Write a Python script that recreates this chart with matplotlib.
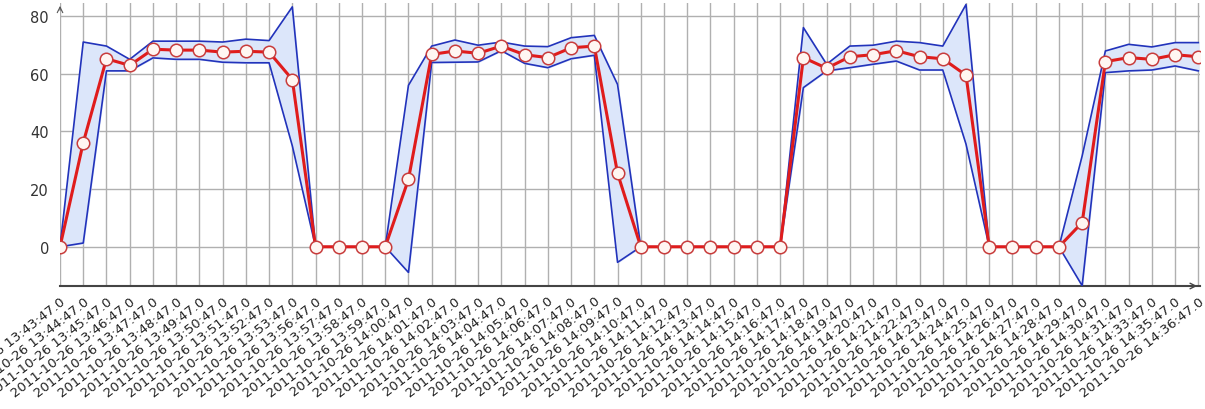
import matplotlib
matplotlib.use('Agg')
import matplotlib.pyplot as plt

# sample times (minutes past the hour on 2011-10-26)
times = ['13:43', '13:44', '13:45', '13:46', '13:47', '13:48', '13:49', '13:50',
         '13:51', '13:52', '13:53', '13:56', '13:57', '13:58', '13:59', '14:00',
         '14:01', '14:02', '14:03', '14:04', '14:05', '14:06', '14:07', '14:08',
         '14:09', '14:10', '14:11', '14:12', '14:13', '14:14', '14:15', '14:16',
         '14:17', '14:18', '14:19', '14:20', '14:21', '14:22', '14:23', '14:24',
         '14:25', '14:26', '14:27', '14:28', '14:29', '14:30', '14:31', '14:33',
         '14:35', '14:36']
labels = ['2011-10-26 %s:47.0' % t for t in times]

mean_vals = [0, 36.1, 65.2, 62.9, 68.5, 68.2, 68.2, 67.5, 67.8, 67.5,
             58.0, 0, 0, 0, 0, 23.4, 66.7, 67.9, 67.1, 69.6,
             66.6, 65.6, 69.0, 69.6, 25.5, 0, 0, 0, 0, 0,
             0, 0, 65.6, 61.9, 65.9, 66.6, 68.0, 65.9, 65.2, 59.5,
             0, 0, 0, 0, 8.4, 64.2, 65.6, 65.0, 66.6, 65.9]
upper_vals = [0, 71.0, 69.6, 65.0, 71.3, 71.3, 71.3, 71.0, 72.0, 71.5,
              83.2, 0, 0, 0, 0, 56.0, 69.6, 71.7, 69.9, 71.0,
              69.6, 69.4, 72.5, 73.3, 56.3, 0, 0, 0, 0, 0,
              0, 0, 76.0, 63.3, 69.6, 69.9, 71.3, 70.8, 69.6, 84.0,
              0, 0, 0, 0, 31.5, 67.9, 70.2, 69.3, 70.8, 70.8]
lower_vals = [0, 1.3, 61.0, 61.0, 65.5, 65.0, 65.0, 64.0, 63.8, 63.8,
              35.0, 0, 0, 0, 0, -8.9, 63.9, 64.0, 64.1, 68.0,
              63.6, 62.1, 65.2, 66.4, -5.4, 0, 0, 0, 0, 0,
              0, 0, 55.2, 61.0, 62.1, 63.3, 64.4, 61.3, 61.3, 35.6,
              0, 0, 0, 0, -13.5, 60.4, 61.0, 61.3, 62.7, 61.0]

x = list(range(len(labels)))

fig = plt.figure(figsize=(12.05, 4.10), dpi=100)
ax = fig.add_axes([0.0498, 0.30, 0.946, 0.690])

# min/max band
ax.fill_between(x, lower_vals, upper_vals, color='#dce6fa', zorder=2)
ax.plot(x, upper_vals, color='#2233bb', lw=1.2, zorder=3)
ax.plot(x, lower_vals, color='#2233bb', lw=1.2, zorder=3)

# average line
ax.plot(x, mean_vals, color='#e01c1c', lw=2.2, zorder=4,
        marker='o', markersize=9, markerfacecolor='#fff6f2',
        markeredgecolor='#c83c3c', markeredgewidth=1.1)

ax.set_xlim(0, 49.07)
ax.set_ylim(-13.6, 84.5)
ax.set_yticks([0, 20, 40, 60, 80])
ax.set_xticks(x)
ax.set_xticklabels(labels, rotation=38, ha='right', va='top',
                   rotation_mode='anchor', fontsize=9.5, color='#222222')
ax.tick_params(axis='both', length=0)
ax.tick_params(axis='x', pad=6)
ax.tick_params(axis='y', pad=8, labelsize=10.5, labelcolor='#333333')

ax.grid(True, color='#b0b0b0', lw=1)
ax.set_axisbelow(True)
for s in ['top', 'right', 'left']:
    ax.spines[s].set_visible(False)
ax.spines['bottom'].set_color('#444444')
ax.spines['bottom'].set_linewidth(1.5)

# axis arrowheads
ax.annotate('', xy=(1.0, 0), xytext=(0.985, 0), xycoords='axes fraction',
            arrowprops=dict(arrowstyle='->', color='#444444', lw=1.0))
ax.annotate('', xy=(0, 1.0), xytext=(0, 0.965), xycoords='axes fraction',
            arrowprops=dict(arrowstyle='->', color='#555555', lw=0.8))

fig.savefig('out.png', dpi=100)
